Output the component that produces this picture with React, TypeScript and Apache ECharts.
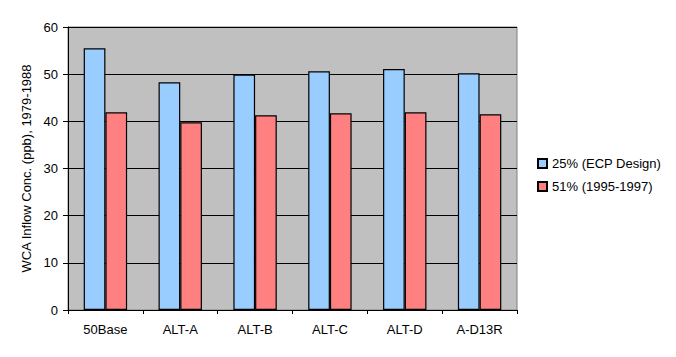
import React, { useEffect, useRef } from "react";
import * as echarts from "echarts";

const categories = ["50Base", "ALT-A", "ALT-B", "ALT-C", "ALT-D", "A-D13R"];
const seriesNames = ["25% (ECP Design)", "51% (1995-1997)"];
const ecpDesign = [55.5, 48.3, 49.9, 50.6, 51.1, 50.2];
const recent = [41.9, 39.8, 41.3, 41.7, 41.9, 41.5];
const yTicks = { min: 0, max: 60, interval: 10 };
const yTitle = "WCA Inflow Conc. (ppb), 1979-1988";

const FONT = "'Liberation Sans', Arial, sans-serif";

export default function App() {
  const ref = useRef<HTMLDivElement>(null);
  useEffect(() => {
    if (!ref.current) return;
    const chart = echarts.init(ref.current, undefined, { renderer: "svg" });
    chart.setOption({
      animation: false,
      backgroundColor: "#ffffff",
      textStyle: { fontFamily: FONT },
      grid: {
        left: 68,
        top: 27,
        width: 449,
        height: 283,
        show: true,
        backgroundColor: "#C0C0C0",
        borderColor: "#808080",
        borderWidth: 1,
      },
      legend: {
        orient: "vertical",
        left: 532,
        top: 152,
        itemWidth: 9,
        itemHeight: 9,
        itemGap: 10,
        icon: "rect",
        textStyle: { fontFamily: FONT, fontSize: 13, color: "#000" },
        data: seriesNames,
      },
      xAxis: {
        type: "category",
        data: categories,
        axisLine: { lineStyle: { color: "#000", width: 1 } },
        axisTick: { show: true, length: 4, lineStyle: { color: "#000" } },
        axisLabel: { color: "#000", fontSize: 13, margin: 13, fontFamily: FONT },
      },
      yAxis: {
        type: "value",
        min: yTicks.min,
        max: yTicks.max,
        interval: yTicks.interval,
        name: yTitle,
        nameLocation: "middle",
        nameGap: 34,
        nameRotate: 90,
        nameTextStyle: { color: "#000", fontSize: 13, fontFamily: FONT },
        axisLine: { show: true, lineStyle: { color: "#000", width: 1 } },
        axisTick: { show: true, length: 5, lineStyle: { color: "#000" } },
        axisLabel: { color: "#000", fontSize: 13, margin: 10, fontFamily: FONT },
        splitLine: { show: true, lineStyle: { color: "#000", width: 1 } },
      },
      series: [
        {
          name: seriesNames[0],
          type: "bar",
          data: ecpDesign,
          barGap: "0%",
          barCategoryGap: "42%",
          itemStyle: { color: "#99CCFF", borderColor: "#000000", borderWidth: 1.2, borderType: "solid" },
        },
        {
          name: seriesNames[1],
          type: "bar",
          data: recent,
          barGap: "0%",
          barCategoryGap: "42%",
          itemStyle: { color: "#FF8080", borderColor: "#000000", borderWidth: 1.2, borderType: "solid" },
        },
      ],
    });
    return () => chart.dispose();
  }, []);
  return <div ref={ref} style={{ width: 676, height: 357, marginLeft: -8, marginTop: -8 }} />;
}
